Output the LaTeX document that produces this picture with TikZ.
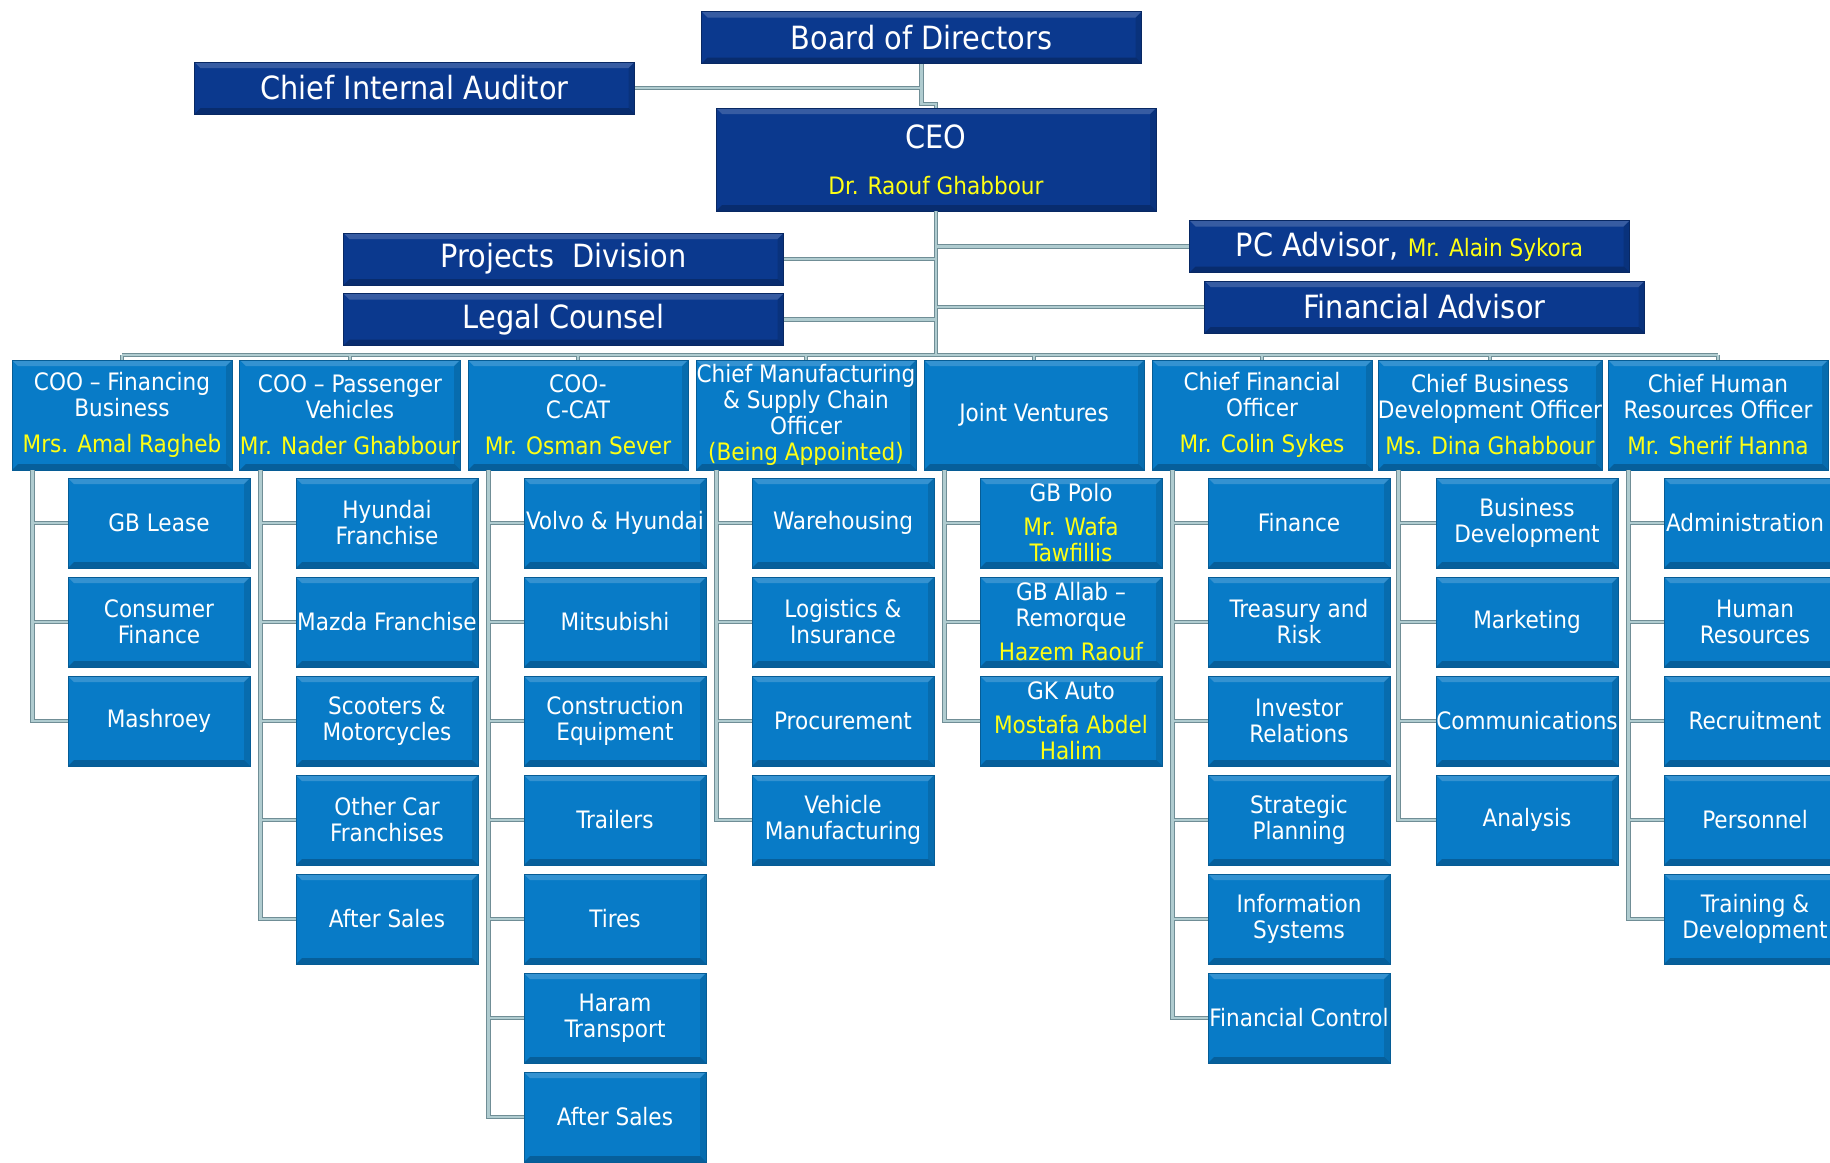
\documentclass[tikz,border=0pt]{standalone}
\usepackage{fontspec}
\setmainfont{DejaVu Sans Condensed}
\usetikzlibrary{calc}

\definecolor{navybox}{RGB}{11,57,142}
\definecolor{bluebox}{RGB}{8,123,199}
\definecolor{namey}{RGB}{255,255,20}
\definecolor{linkfill}{RGB}{176,204,208}
\definecolor{linkedge}{RGB}{112,142,150}

\newcommand{\nm}[1]{\textcolor{namey}{#1}}

\tikzset{
  bevel/.style={path picture={
      \fill[white,opacity=0.18] (path picture bounding box.north west) -- (path picture bounding box.north east)
        -- ([xshift=-3pt,yshift=-3pt]path picture bounding box.north east) -- ([xshift=3pt,yshift=-3pt]path picture bounding box.north west) -- cycle;
      \fill[black,opacity=0.22] (path picture bounding box.south west) -- (path picture bounding box.south east)
        -- ([xshift=-3pt,yshift=3pt]path picture bounding box.south east) -- ([xshift=3pt,yshift=3pt]path picture bounding box.south west) -- cycle;
      \fill[black,opacity=0.12] (path picture bounding box.north east) -- (path picture bounding box.south east)
        -- ([xshift=-3pt,yshift=3pt]path picture bounding box.south east) -- ([xshift=-3pt,yshift=-3pt]path picture bounding box.north east) -- cycle;
  }},
  topbox/.style={bevel, fill=navybox, draw=navybox!70!black, text=white, minimum width=220pt,
    minimum height=26pt, inner sep=0pt, align=center, font=\fontsize{16}{18}\selectfont},
  headbox/.style={bevel, fill=bluebox, draw=bluebox!75!black, text=white, minimum width=110pt,
    minimum height=55pt, inner sep=0pt, align=center, font=\fontsize{12}{13}\selectfont},
  unitbox/.style={headbox, minimum width=91pt, minimum height=45pt},
  link/.style={draw=linkedge, line width=0.45pt, double=linkfill, double distance=1.3pt}
}

\begin{document}
\begin{tikzpicture}[x=0.5pt,y=-0.5pt]
	\useasboundingbox (0,0) rectangle (1830,1162);
	%% top of the chart
	\node[topbox] (board) at (921.5,37.5) {Board of Directors};
	\node[topbox] (audit) at (414.5,88) {Chief Internal Auditor};
	\node[topbox, minimum height=51.5pt] (ceo) at (936,159.5) {CEO\\[5pt]{\fontsize{12}{14}\selectfont\nm{Dr. Raouf Ghabbour}}};
	\node[topbox] (proj) at (563.5,259) {Projects\ \ Division};
	\node[topbox] (legal) at (563.5,319.5) {Legal Counsel};
	\node[topbox] (pcadv) at (1409.5,246.5) {PC Advisor, {\fontsize{12}{14}\selectfont\nm{Mr. Alain Sykora}}};
	\node[topbox] (finadv) at (1424.5,307) {Financial Advisor};
	\coordinate (barL) at (122,355);
	\coordinate (barR) at (1718,355);

	%% officers
	\node[headbox] (coofin) at (122,415) {COO – Financing\\Business\\[5pt]\nm{Mrs. Amal Ragheb}};
	\node[headbox] (coopv) at (350,415) {COO – Passenger\\Vehicles\\[5pt]\nm{Mr. Nader Ghabbour}};
	\node[headbox] (ccat) at (578,415) {COO-\\C-CAT\\[5pt]\nm{Mr. Osman Sever}};
	\node[headbox] (cmsc) at (806,415) {Chief Manufacturing\\\& Supply Chain\\Officer\\\nm{(Being Appointed)}};
	\node[headbox] (jv) at (1034,415) {Joint Ventures};
	\node[headbox] (cfo) at (1262,415) {Chief Financial\\Officer\\[5pt]\nm{Mr. Colin Sykes}};
	\node[headbox] (cbdo) at (1490,415) {Chief Business\\Development Officer\\[5pt]\nm{Ms. Dina Ghabbour}};
	\node[headbox] (chro) at (1718,415) {Chief Human\\Resources Officer\\[5pt]\nm{Mr. Sherif Hanna}};

	%% financing
	\node[unitbox] (gblease) at (159,523) {GB Lease};
	\node[unitbox] (consfin) at (159,622) {Consumer\\Finance};
	\node[unitbox] (mashroey) at (159,721) {Mashroey};
	%% passenger vehicles
	\node[unitbox] (hyundai) at (387,523) {Hyundai\\Franchise};
	\node[unitbox] (mazda) at (387,622) {Mazda Franchise};
	\node[unitbox] (scooters) at (387,721) {Scooters \&\\Motorcycles};
	\node[unitbox] (othercar) at (387,820) {Other Car\\Franchises};
	\node[unitbox] (pvsales) at (387,919) {After Sales};
	%% c-cat
	\node[unitbox] (volvo) at (615,523) {Volvo \& Hyundai};
	\node[unitbox] (mitsu) at (615,622) {Mitsubishi};
	\node[unitbox] (constr) at (615,721) {Construction\\Equipment};
	\node[unitbox] (trailers) at (615,820) {Trailers};
	\node[unitbox] (tires) at (615,919) {Tires};
	\node[unitbox] (haram) at (615,1018) {Haram\\Transport};
	\node[unitbox] (ccsales) at (615,1117) {After Sales};
	%% manufacturing
	\node[unitbox] (wareh) at (843,523) {Warehousing};
	\node[unitbox] (logist) at (843,622) {Logistics \&\\Insurance};
	\node[unitbox] (procure) at (843,721) {Procurement};
	\node[unitbox] (vehman) at (843,820) {Vehicle\\Manufacturing};
	%% joint ventures
	\node[unitbox] (gbpolo) at (1071,523) {GB Polo\\[4pt]\nm{Mr. Wafa}\\\nm{Tawfillis}};
	\node[unitbox] (gballab) at (1071,622) {GB Allab –\\Remorque\\[4pt]\nm{Hazem Raouf}};
	\node[unitbox] (gkauto) at (1071,721) {GK Auto\\[4pt]\nm{Mostafa Abdel}\\\nm{Halim}};
	%% finance
	\node[unitbox] (finance) at (1299,523) {Finance};
	\node[unitbox] (treasury) at (1299,622) {Treasury and\\Risk};
	\node[unitbox] (investor) at (1299,721) {Investor\\Relations};
	\node[unitbox] (strat) at (1299,820) {Strategic\\Planning};
	\node[unitbox] (infosys) at (1299,919) {Information\\Systems};
	\node[unitbox] (fincontrol) at (1299,1018) {Financial Control};
	%% business development
	\node[unitbox] (busdev) at (1527,523) {Business\\Development};
	\node[unitbox] (marketing) at (1527,622) {Marketing};
	\node[unitbox] (comms) at (1527,721) {Communications};
	\node[unitbox] (analysis) at (1527,820) {Analysis};
	%% human resources
	\node[unitbox] (admin) at (1755,523) {Administration\hspace*{10pt}};
	\node[unitbox] (humres) at (1755,622) {Human\\Resources};
	\node[unitbox] (recruit) at (1755,721) {Recruitment};
	\node[unitbox] (personnel) at (1755,820) {Personnel};
	\node[unitbox] (training) at (1755,919) {Training \&\\Development};

	%% lines
	\draw[link] (board.south) -- ++(0,40) -| (ceo.north)
		(audit.east) -- (audit.east -| board.south);
	\draw[link] (ceo.south) -- (ceo.south |- barL)
		(proj.east) -- (proj.east -| ceo.south)
		(legal.east) -- (legal.east -| ceo.south)
		(pcadv.west) -- (pcadv.west -| ceo.south)
		(finadv.west) -- (finadv.west -| ceo.south)
		(barL) -- (barR)
		(coofin.north) -- (coofin.north |- barL)
		(coopv.north) -- (coopv.north |- barL)
		(ccat.north) -- (ccat.north |- barL)
		(cmsc.north) -- (cmsc.north |- barL)
		(jv.north) -- (jv.north |- barL)
		(cfo.north) -- (cfo.north |- barL)
		(cbdo.north) -- (cbdo.north |- barL)
		(chro.north) -- (chro.north |- barL);
	\draw[link] ($(coofin.south west)+(21,0)$) |- (mashroey.west)
		($(coofin.south west)+(21,0)$) |- (consfin.west)
		($(coofin.south west)+(21,0)$) |- (gblease.west);
	\draw[link] ($(coopv.south west)+(21,0)$) |- (pvsales.west)
		($(coopv.south west)+(21,0)$) |- (othercar.west)
		($(coopv.south west)+(21,0)$) |- (scooters.west)
		($(coopv.south west)+(21,0)$) |- (mazda.west)
		($(coopv.south west)+(21,0)$) |- (hyundai.west);
	\draw[link] ($(ccat.south west)+(21,0)$) |- (ccsales.west)
		($(ccat.south west)+(21,0)$) |- (haram.west)
		($(ccat.south west)+(21,0)$) |- (tires.west)
		($(ccat.south west)+(21,0)$) |- (trailers.west)
		($(ccat.south west)+(21,0)$) |- (constr.west)
		($(ccat.south west)+(21,0)$) |- (mitsu.west)
		($(ccat.south west)+(21,0)$) |- (volvo.west);
	\draw[link] ($(cmsc.south west)+(21,0)$) |- (vehman.west)
		($(cmsc.south west)+(21,0)$) |- (procure.west)
		($(cmsc.south west)+(21,0)$) |- (logist.west)
		($(cmsc.south west)+(21,0)$) |- (wareh.west);
	\draw[link] ($(jv.south west)+(21,0)$) |- (gkauto.west)
		($(jv.south west)+(21,0)$) |- (gballab.west)
		($(jv.south west)+(21,0)$) |- (gbpolo.west);
	\draw[link] ($(cfo.south west)+(21,0)$) |- (fincontrol.west)
		($(cfo.south west)+(21,0)$) |- (infosys.west)
		($(cfo.south west)+(21,0)$) |- (strat.west)
		($(cfo.south west)+(21,0)$) |- (investor.west)
		($(cfo.south west)+(21,0)$) |- (treasury.west)
		($(cfo.south west)+(21,0)$) |- (finance.west);
	\draw[link] ($(cbdo.south west)+(21,0)$) |- (analysis.west)
		($(cbdo.south west)+(21,0)$) |- (comms.west)
		($(cbdo.south west)+(21,0)$) |- (marketing.west)
		($(cbdo.south west)+(21,0)$) |- (busdev.west);
	\draw[link] ($(chro.south west)+(21,0)$) |- (training.west)
		($(chro.south west)+(21,0)$) |- (personnel.west)
		($(chro.south west)+(21,0)$) |- (recruit.west)
		($(chro.south west)+(21,0)$) |- (humres.west)
		($(chro.south west)+(21,0)$) |- (admin.west);
\end{tikzpicture}
\end{document}
